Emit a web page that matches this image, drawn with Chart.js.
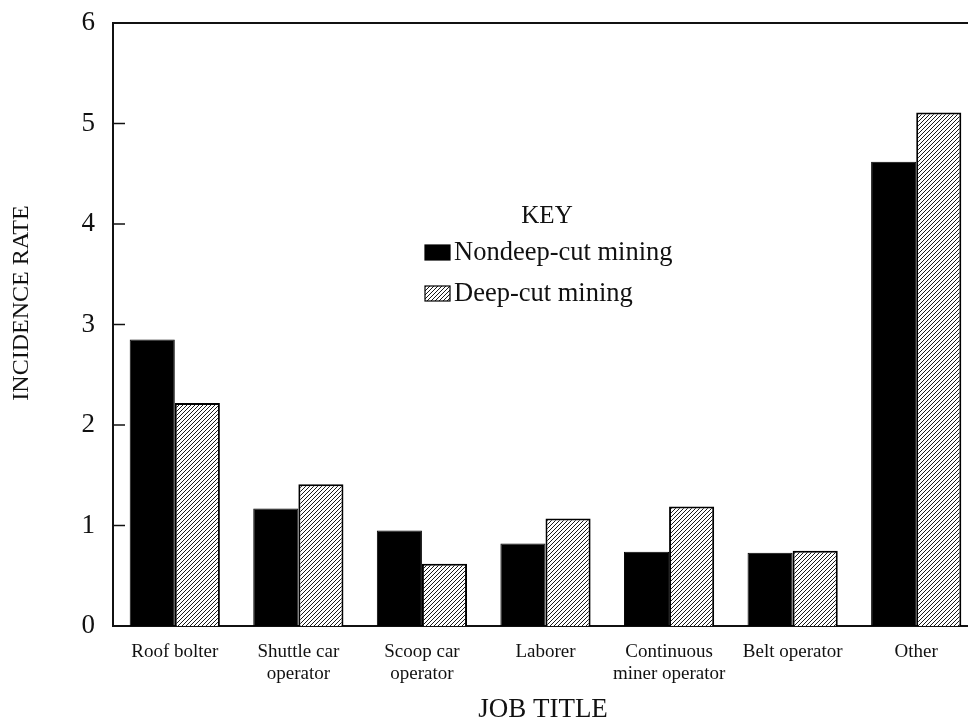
<!DOCTYPE html>
<html><head><meta charset="utf-8">
<script src="https://cdn.jsdelivr.net/npm/chart.js@4/dist/chart.umd.min.js"></script>
<style>
html,body{margin:0;padding:0;overflow:hidden;background:#fff;width:968px;height:722px}
#wrap{width:990px;height:722px}
</style></head>
<body><div id="wrap"><canvas id="c" width="990" height="722"></canvas></div>
<script>
const categories = [
  'Roof bolter',
  ['Shuttle car', 'operator'],
  ['Scoop car', 'operator'],
  'Laborer',
  ['Continuous', 'miner operator'],
  'Belt operator',
  'Other'
];
const nondeepCut = [2.85, 1.17, 0.95, 0.82, 0.74, 0.73, 4.62];
const deepCut    = [2.22, 1.41, 0.62, 1.07, 1.19, 0.75, 5.11];
const yTicks = [0, 1, 2, 3, 4, 5, 6];
const seriesNames = ['Nondeep-cut mining', 'Deep-cut mining'];
const keyTitle = 'KEY';
const xTitle = 'JOB TITLE';
const yTitle = 'INCIDENCE RATE';

const SERIF = '"Liberation Serif", "Times New Roman", serif';
const INK = '#111';

function makeHatch() {
  const s = 4;
  const p = document.createElement('canvas');
  p.width = s; p.height = s;
  const g = p.getContext('2d');
  g.fillStyle = '#fff';
  g.fillRect(0, 0, s, s);
  g.strokeStyle = '#1a1a1a';
  g.lineWidth = 1.0;
  g.beginPath();
  g.moveTo(0, s); g.lineTo(s, 0);
  g.moveTo(-1, 1); g.lineTo(1, -1);
  g.moveTo(s - 1, s + 1); g.lineTo(s + 1, s - 1);
  g.stroke();
  return g.createPattern(p, 'repeat');
}
const hatch = makeHatch();

const decorPlugin = {
  id: 'decor',
  afterDraw(chart) {
    const {ctx, chartArea, scales} = chart;
    ctx.save();
    ctx.strokeStyle = INK;
    ctx.lineWidth = 2;
    ctx.beginPath();
    ctx.moveTo(chartArea.left, chartArea.top);
    ctx.lineTo(chart.width, chartArea.top);
    ctx.stroke();
    ctx.lineWidth = 1.5;
    yTicks.forEach(v => {
      if (v === 0 || v === 6) return;
      const y = scales.y.getPixelForValue(v);
      ctx.beginPath();
      ctx.moveTo(chartArea.left, y);
      ctx.lineTo(chartArea.left + 12, y);
      ctx.stroke();
    });
    ctx.fillStyle = INK;
    ctx.textAlign = 'center';
    ctx.textBaseline = 'middle';
    ctx.font = '27px ' + SERIF;
    ctx.fillText(xTitle, 543, 710);
    ctx.save();
    ctx.translate(22, 303);
    ctx.rotate(-Math.PI / 2);
    ctx.font = '24px ' + SERIF;
    ctx.fillText(yTitle, 0, 0);
    ctx.restore();
    ctx.font = '25px ' + SERIF;
    ctx.fillText(keyTitle, 547, 216);
    ctx.textAlign = 'left';
    const rows = [252, 293];
    chart.data.datasets.forEach((ds, i) => {
      const y = rows[i];
      ctx.fillStyle = ds.backgroundColor;
      ctx.fillRect(425, y - 7, 25, 15);
      ctx.strokeStyle = '#000';
      ctx.lineWidth = 1.2;
      ctx.strokeRect(425, y - 7, 25, 15);
      ctx.fillStyle = INK;
      ctx.font = '26.5px ' + SERIF;
      ctx.fillText(ds.label, 454, y + 1);
    });
    ctx.restore();
  }
};

new Chart(document.getElementById('c'), {
  type: 'bar',
  data: {
    labels: categories,
    datasets: [
      { label: seriesNames[0], data: nondeepCut, backgroundColor: '#000', borderColor: '#000', borderWidth: 1 },
      { label: seriesNames[1], data: deepCut, backgroundColor: hatch, borderColor: '#000', borderWidth: 2 }
    ]
  },
  options: {
    responsive: false,
    animation: false,
    devicePixelRatio: 1,
    layout: { padding: { top: 23, right: 12, left: 0, bottom: 0 } },
    datasets: { bar: { categoryPercentage: 0.73, barPercentage: 1 } },
    plugins: { legend: { display: false }, tooltip: { enabled: false } },
    scales: {
      x: {
        type: 'category',
        offset: true,
        grid: { display: false, drawTicks: false },
        border: { display: true, color: INK, width: 2 },
        ticks: { color: INK, font: { family: SERIF, size: 19, lineHeight: 1.16 }, padding: 15, maxRotation: 0, autoSkip: false },
        afterFit(scale) { scale.height = 96; scale.paddingLeft = 0; scale.paddingRight = 0; }
      },
      y: {
        min: 0, max: 6,
        grid: { display: false, drawTicks: false },
        border: { display: true, color: INK, width: 2 },
        ticks: { stepSize: 1, color: INK, font: { family: SERIF, size: 27 }, padding: 18 },
        afterFit(scale) { scale.width = 113; scale.paddingTop = 0; scale.paddingBottom = 0; }
      }
    }
  },
  plugins: [decorPlugin]
});
</script>
</body></html>
